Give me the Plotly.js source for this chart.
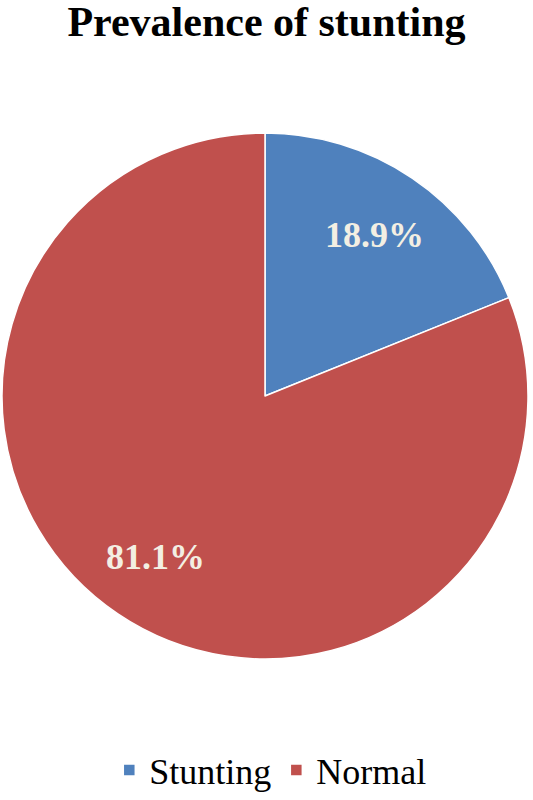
<!DOCTYPE html>
<html>
<head>
<meta charset="utf-8">
<script src="https://cdn.plot.ly/plotly-3.0.1.min.js"></script>
<style>
  body { margin: 0; background: #fff; }
  #chart { width: 533px; height: 800px; }
</style>
</head>
<body>
<div id="chart"></div>
<script>
// Prevalence of stunting
const categories = ['Stunting', 'Normal'];
const shares = [18.9, 81.1];
const sliceColors = ['#4F81BD', '#C0504D'];

const serif = 'Liberation Serif, Times New Roman, serif';

// percentage labels sit at ~0.74 of the radius, on each slice's mid angle
function sliceLabels() {
    const total = shares.reduce((a, b) => a + b, 0);
    let start = 0;
    return shares.map(v => {
        const mid = (start + v / 2) / total * 2 * Math.PI;
        start += v;
        const r = 0.5 * 0.74;
        return {
            xref: 'paper', yref: 'paper',
            x: 0.5 + r * Math.sin(mid),
            y: 0.5 + r * Math.cos(mid),
            xanchor: 'center',
            yanchor: 'middle',
            text: '<b>' + v.toFixed(1) + '%</b>',
            showarrow: false,
            font: { family: serif, size: 36, color: '#F3EFE3' }
        };
    });
}

const trace = {
    type: 'pie',
    labels: categories,
    values: shares,
    sort: false,
    direction: 'clockwise',
    rotation: 0,
    marker: { colors: sliceColors, line: { color: '#ffffff', width: 1.5 } },
    textinfo: 'none',
    hoverinfo: 'label+percent'
};

const layout = {
    width: 533,
    height: 800,
    margin: { l: 0, r: 3, t: 133, b: 137 },
    paper_bgcolor: '#ffffff',
    title: {
        text: '<b>Prevalence of stunting</b>',
        font: { family: serif, size: 42, color: '#000000' },
        x: 0.5,
        xanchor: 'center',
        y: 0.973,
        yanchor: 'middle'
    },
    annotations: sliceLabels(),
    showlegend: true,
    legend: {
        orientation: 'h',
        x: 0.51,
        xanchor: 'center',
        y: -0.211,
        yanchor: 'middle',
        font: { family: serif, size: 36, color: '#000000' },
        itemwidth: 30
    }
};

Plotly.newPlot('chart', [trace], layout, { displayModeBar: false });
</script>
</body>
</html>
